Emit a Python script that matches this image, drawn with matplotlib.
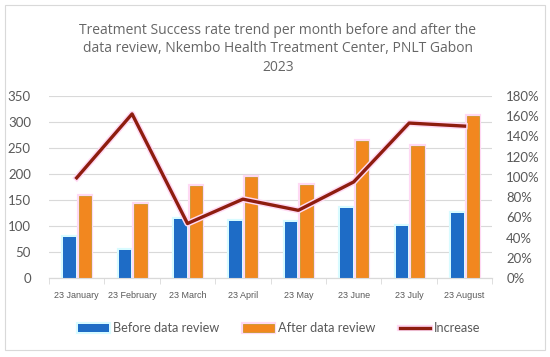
import numpy as np
import matplotlib.pyplot as plt
import matplotlib.patheffects as pe
from matplotlib.patches import Rectangle
from matplotlib.ticker import PercentFormatter

months = ['23 January', '23 February', '23 March', '23 April',
          '23 May', '23 June', '23 July', '23 August']
before = [79, 55, 113, 109, 107, 135, 100, 125]
after = [157, 143, 176, 194, 178, 263, 254, 312]
increase = [0.99, 1.62, 0.54, 0.78, 0.67, 0.95, 1.53, 1.50]

plt.rcParams['font.family'] = ['Lato', 'DejaVu Sans']
gray = '#595959'

fig = plt.figure(figsize=(5.5, 3.57), dpi=100)
fig.patches.append(Rectangle((0.009, 0.02), 0.982, 0.965, transform=fig.transFigure,
                             fill=False, edgecolor='#d9d9d9', linewidth=0.8))
ax = fig.add_axes([0.089, 0.2205, 0.806, 0.5115])
ax2 = ax.twinx()

x = np.arange(len(months))
w = 0.225
glow_b = [pe.withStroke(linewidth=3, foreground='#d8fbff')]
glow_o = [pe.withStroke(linewidth=3, foreground='#ffd9f4')]
ax.bar(x - 0.13, before, w, color='#1e6cc6', zorder=3, path_effects=glow_b,
       label='Before data review')
ax.bar(x + 0.15, after, w, color='#f2871f', edgecolor='#c9962e', linewidth=0.6,
       zorder=3, path_effects=glow_o, label='After data review')
ax2.plot(x, increase, color='#8e1d0f', linewidth=2.4, zorder=4,
         path_effects=[pe.withStroke(linewidth=4.5, foreground='#ffd9f4')],
         label='Increase')

ax.set_xlim(-0.5, len(months) - 0.5)
ax.set_ylim(0, 350)
ax.set_yticks(range(0, 351, 50))
ax2.set_ylim(0, 1.8)
ax2.set_yticks(np.arange(0, 1.81, 0.2))
ax2.yaxis.set_major_formatter(PercentFormatter(1.0, decimals=0))

ax.grid(axis='y', color='#d9d9d9', linewidth=0.8, zorder=0)
ax.set_axisbelow(True)
for a in (ax, ax2):
    for s in ['top', 'left', 'right']:
        a.spines[s].set_visible(False)
    a.spines['bottom'].set_color('#d9d9d9')
ax.set_xticks(x)
ax.set_xticklabels(months, fontsize=6.5, color=gray, family='Liberation Sans')
ax.set_xticks(np.arange(-0.5, len(months), 1), minor=True)
ax.tick_params(axis='x', which='major', length=0, pad=9)
ax.tick_params(axis='x', which='minor', length=4, color='#d9d9d9')
ax.tick_params(axis='y', length=0, labelsize=9.5, labelcolor=gray, pad=13)
ax2.tick_params(axis='y', length=0, labelsize=9.5, labelcolor=gray, pad=10)

fig.text(0.505, 0.863,
         'Treatment Success rate trend per month before and after the\n'
         'data review, Nkembo Health Treatment Center, PNLT Gabon\n2023',
         ha='center', va='center', fontsize=10, color='#666666',
         linespacing=1.35, family=['Open Sans', 'DejaVu Sans'])

h1, l1 = ax.get_legend_handles_labels()
h2, l2 = ax2.get_legend_handles_labels()
fig.legend(h1 + h2, l1 + l2, loc='center', bbox_to_anchor=(0.508, 0.08), ncol=3,
           frameon=False, fontsize=9.2, labelcolor=gray, handlelength=2.4,
           handleheight=0.6, columnspacing=1.9, handletextpad=0.3)

fig.savefig('out.png', dpi=100)
